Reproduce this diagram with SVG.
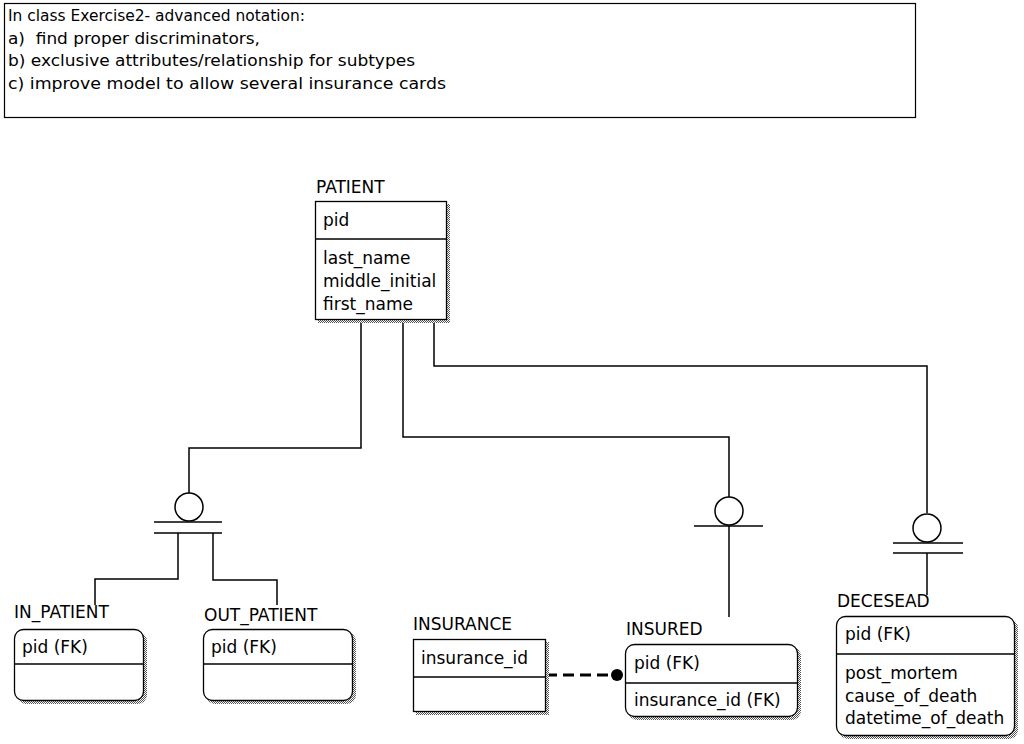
<svg xmlns="http://www.w3.org/2000/svg" width="1024" height="744" viewBox="0 0 1024 744">
<defs>
<pattern id="dots" width="2" height="2" patternUnits="userSpaceOnUse">
<rect width="2" height="2" fill="#ffffff"/>
<rect width="1" height="1" fill="#555555"/>
<rect x="1" y="1" width="1" height="1" fill="#555555"/>
</pattern>
</defs>
<style>
text{font-family:"DejaVu Sans","Liberation Sans",sans-serif;font-size:17px;fill:#000}
.note{font-size:16px}
.box{fill:#fff;stroke:#000;stroke-width:1.3}
.sh{fill:url(#dots);stroke:none}
.sep{stroke:#000;stroke-width:1.3}
.ln{fill:none;stroke:#000;stroke-width:1.5}
.dash{fill:none;stroke:#000;stroke-width:3;stroke-dasharray:11,6}
</style>
<rect width="1024" height="744" fill="#fff"/>

<g id="note">
<rect x="4.5" y="3.5" width="911" height="114" fill="#fff" stroke="#000" stroke-width="1.2"/>
<text class="note" x="8" y="21" textLength="297" lengthAdjust="spacingAndGlyphs">In class Exercise2- advanced notation:</text>
<text class="note" x="8" y="44" xml:space="preserve" textLength="252" lengthAdjust="spacingAndGlyphs">a)  find proper discriminators,</text>
<text class="note" x="8" y="66" textLength="407" lengthAdjust="spacingAndGlyphs">b) exclusive attributes/relationship for subtypes</text>
<text class="note" x="8" y="89" textLength="438" lengthAdjust="spacingAndGlyphs">c) improve model to allow several insurance cards</text>
</g>

<g id="connectors">
<polyline class="ln" points="361,319 361,448 189,448 189,493"/>
<circle class="ln" cx="189" cy="507" r="14"/>
<line class="ln" x1="154" y1="522" x2="222" y2="522"/>
<line class="ln" x1="154" y1="533" x2="222" y2="533"/>
<polyline class="ln" points="178,533 178,579 95,579 95,605"/>
<polyline class="ln" points="213,533 213,580 277,580 277,605"/>

<polyline class="ln" points="403,319 403,437 729,437 729,497"/>
<circle class="ln" cx="729" cy="511" r="14"/>
<line class="ln" x1="694" y1="526" x2="763" y2="526"/>
<line class="ln" x1="729" y1="526" x2="729" y2="617"/>

<polyline class="ln" points="434,319 434,366 927,366 927,513"/>
<circle class="ln" cx="927" cy="528" r="14"/>
<line class="ln" x1="893" y1="543" x2="963" y2="543"/>
<line class="ln" x1="893" y1="553" x2="963" y2="553"/>
<line class="ln" x1="927" y1="553" x2="927" y2="595"/>

<line class="dash" x1="546" y1="675" x2="612" y2="675"/>
<circle cx="617" cy="675" r="6" fill="#000"/>
</g>

<g id="patient">
<rect class="sh" x="318" y="204" width="132" height="119"/>
<rect class="box" x="315.5" y="201.5" width="131" height="118"/>
<line class="sep" x1="315.5" y1="239" x2="446.5" y2="239"/>
<text x="316" y="193">PATIENT</text>
<text x="323" y="226">pid</text>
<text x="323" y="264">last_name</text>
<text x="323" y="287">middle_initial</text>
<text x="323" y="310">first_name</text>
</g>

<g id="in_patient">
<rect class="sh" x="17" y="632" width="130" height="72" rx="9"/>
<rect class="box" x="14.5" y="629.5" width="129" height="71" rx="9"/>
<line class="sep" x1="14.5" y1="664" x2="143.5" y2="664"/>
<text x="14" y="618">IN_PATIENT</text>
<text x="22" y="653">pid (FK)</text>
</g>

<g id="out_patient">
<rect class="sh" x="206" y="632" width="150" height="72" rx="9"/>
<rect class="box" x="203.5" y="629.5" width="149" height="71" rx="9"/>
<line class="sep" x1="203.5" y1="664" x2="352.5" y2="664"/>
<text x="204" y="621">OUT_PATIENT</text>
<text x="211" y="653">pid (FK)</text>
</g>

<g id="insurance">
<rect class="sh" x="416" y="642" width="133" height="73"/>
<rect class="box" x="413.5" y="639.5" width="132" height="72"/>
<line class="sep" x1="413.5" y1="677" x2="545.5" y2="677"/>
<text x="413" y="630">INSURANCE</text>
<text x="421" y="664">insurance_id</text>
</g>

<g id="insured">
<rect class="sh" x="628" y="647" width="173" height="73" rx="9"/>
<rect class="box" x="625.5" y="644.5" width="172" height="72" rx="9"/>
<line class="sep" x1="625.5" y1="683" x2="797.5" y2="683"/>
<text x="626" y="635">INSURED</text>
<text x="634" y="669">pid (FK)</text>
<text x="634" y="706">insurance_id (FK)</text>
</g>

<g id="decesead">
<rect class="sh" x="839" y="619" width="179" height="120" rx="9"/>
<rect class="box" x="836.5" y="616.5" width="178" height="119" rx="9"/>
<line class="sep" x1="836.5" y1="654" x2="1014.5" y2="654"/>
<text x="837" y="607">DECESEAD</text>
<text x="845" y="640">pid (FK)</text>
<text x="845" y="679">post_mortem</text>
<text x="845" y="702">cause_of_death</text>
<text x="845" y="724">datetime_of_death</text>
</g>
</svg>
